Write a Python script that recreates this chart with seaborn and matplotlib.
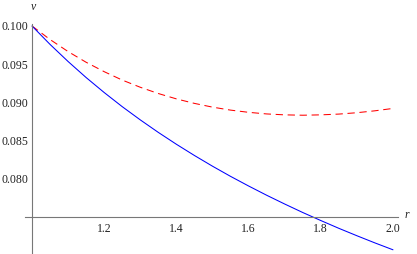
import numpy as np
import pandas as pd
import matplotlib
matplotlib.use('Agg')
import matplotlib.pyplot as plt
from matplotlib.ticker import FixedLocator, FuncFormatter
import seaborn as sns

# values
r = [1.00, 1.05, 1.10, 1.15, 1.20, 1.25, 1.30, 1.35, 1.40, 1.45, 1.50,
     1.55, 1.60, 1.65, 1.70, 1.75, 1.80, 1.85, 1.90, 1.95, 2.00]
v_solid = [0.10000, 0.09759, 0.09535, 0.09325, 0.09129, 0.08944, 0.08771,
           0.08607, 0.08452, 0.08305, 0.08165, 0.08032, 0.07906, 0.07785,
           0.07670, 0.07559, 0.07454, 0.07352, 0.07255, 0.07161, 0.07071]
v_dashed = [0.10000, 0.09823, 0.09665, 0.09525, 0.09402, 0.09292, 0.09198,
            0.09116, 0.09046, 0.08987, 0.08938, 0.08899, 0.08870, 0.08849,
            0.08837, 0.08832, 0.08837, 0.08847, 0.08865, 0.08890, 0.08921]
x_ticks = [1.2, 1.4, 1.6, 1.8, 2.0]
y_ticks = [0.080, 0.085, 0.090, 0.095, 0.100]

df = pd.DataFrame({'r': r, 'solid': v_solid, 'dashed': v_dashed})

sns.set_style('white')
plt.rcParams['font.family'] = ['Liberation Serif', 'DejaVu Serif']

fig = plt.figure(figsize=(4.17, 2.54), dpi=100)
ax = fig.add_axes([25 / 417, 1 / 254, 373 / 417, 229 / 254])

sns.lineplot(data=df, x='r', y='dashed', ax=ax, color=(1, 0, 0), lw=0.75)
ax.lines[-1].set_dashes((7, 4.5))
sns.lineplot(data=df, x='r', y='solid', ax=ax, color=(0, 0, 1), lw=0.75)

ax.set_xlim(0.9806, 2.0139)
ax.set_ylim(0.07029, 0.10026)

axis_col = '#777777'
for s in ['top', 'right']:
    ax.spines[s].set_visible(False)
ax.spines['left'].set_position(('data', 1.0))
ax.spines['bottom'].set_position(('data', 0.075))
for s in ['left', 'bottom']:
    ax.spines[s].set_color(axis_col)
    ax.spines[s].set_linewidth(0.8)

ax.xaxis.set_major_locator(FixedLocator(x_ticks))
ax.xaxis.set_minor_locator(FixedLocator(np.arange(1.05, 2.001, 0.05)))
ax.yaxis.set_major_locator(FixedLocator(y_ticks))
ax.yaxis.set_minor_locator(FixedLocator(np.arange(0.071, 0.1001, 0.001)))
ax.xaxis.set_major_formatter(FuncFormatter(lambda x, p: f'{x:.1f}'))
ax.yaxis.set_major_formatter(FuncFormatter(lambda y, p: f'{y:.3f}'))

ax.tick_params(which='both', direction='in', color=axis_col, width=0.6,
               labelsize=8.5, labelcolor='#222222')
ax.tick_params(which='major', length=4)
ax.tick_params(which='minor', length=2.2)
ax.tick_params(axis='x', which='major', pad=4)
ax.tick_params(axis='y', which='major', pad=2.5)

ax.set_xlabel('')
ax.set_ylabel('')
fig.text(33 / 417, 1 - 7 / 254, 'v', ha='center', va='center',
         fontsize=8.5, style='italic', color='#222222')
fig.text(407 / 417, 1 - 215 / 254, 'r', ha='center', va='center',
         fontsize=8.5, style='italic', color='#222222')

fig.savefig('out.png', dpi=100)
